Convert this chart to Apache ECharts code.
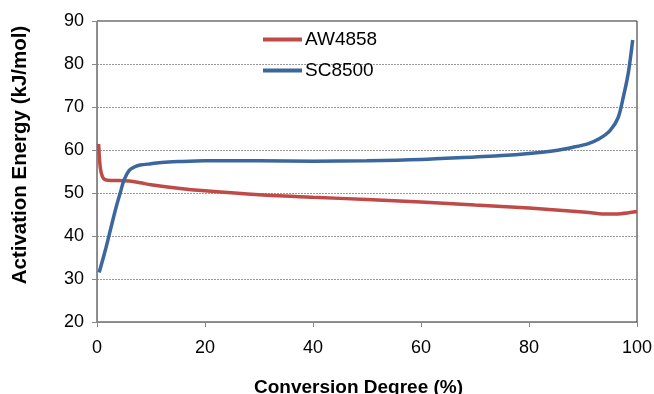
<!DOCTYPE html>
<html>
<head>
<meta charset="utf-8">
<script src="https://cdn.jsdelivr.net/npm/echarts@6/dist/echarts.min.js"></script>
<style>
  html, body { margin: 0; padding: 0; background: #fff; }
  #chart { width: 654px; height: 394px; }
</style>
</head>
<body>
<div id="chart"></div>
<script>
// conversion degree (%) and activation energy (kJ/mol)
var awConv = [0.3, 0.6, 1, 1.5, 2.5, 4, 6, 8, 10, 15, 20, 30, 40, 50, 60, 70, 80, 90, 94, 97, 100];
var awEa   = [61.4, 56, 53.8, 53.1, 52.9, 52.9, 52.8, 52.4, 51.9, 51.1, 50.5, 49.6, 49.0, 48.5, 47.9, 47.2, 46.5, 45.6, 45.1, 45.2, 45.7];

var scConv = [0.4, 1.5, 2.5, 3.5, 4.3, 5, 6, 7, 8, 10, 12, 15, 20, 30, 40, 50, 60, 70, 75, 80, 85, 88, 91, 93, 95, 96.5, 97.5, 98.4, 99.2];
var scEa   = [31.5, 36.5, 41.5, 46.5, 50, 53, 55.3, 56.1, 56.5, 56.8, 57.1, 57.3, 57.5, 57.5, 57.4, 57.5, 57.8, 58.4, 58.7, 59.2, 59.9, 60.6, 61.5, 62.6, 64.5, 67.5, 72.5, 78, 85.6];

var seriesNames = ['AW4858', 'SC8500'];

function pairs (xs, ys) {
  return xs.map(function (x, i) { return [x, ys[i]]; });
}

var chart = echarts.init(document.getElementById('chart'));
chart.setOption({
  animation: false,
  color: ['#BE4B48', '#3B679E'],
  textStyle: { fontFamily: 'Liberation Sans, Arial, sans-serif' },
  grid: {
    left: 97,
    right: 17,
    top: 21,
    bottom: 72,
    containLabel: false,
    outerBoundsMode: 'none',
    show: true,
    borderColor: '#222',
    borderWidth: 1
  },
  legend: {
    orient: 'vertical',
    left: 258,
    top: 25,
    icon: 'rect',
    itemWidth: 39,
    itemHeight: 4,
    itemGap: 12,
    textStyle: { fontSize: 19, color: '#000', padding: [0, 0, 0, -2] },
    data: seriesNames
  },
  xAxis: {
    type: 'value',
    min: 0,
    max: 100,
    interval: 20,
    name: 'Conversion Degree (%)',
    nameLocation: 'middle',
    nameGap: 56,
    nameTextStyle: { fontSize: 19, fontWeight: 'bold', color: '#000', padding: [0, 17, 0, 0] },
    axisLine: { lineStyle: { color: '#888' } },
    axisTick: { show: true, inside: false, length: 5, lineStyle: { color: '#888' } },
    axisLabel: { fontSize: 18, color: '#000', margin: 17 },
    splitLine: { show: false }
  },
  yAxis: {
    type: 'value',
    min: 20,
    max: 90,
    interval: 10,
    name: 'Activation Energy (kJ/mol)',
    nameLocation: 'middle',
    nameGap: 66,
    nameTextStyle: { fontSize: 20.5, fontWeight: 'bold', color: '#000', padding: [0, 0, 0, 33] },
    axisLine: { show: true, lineStyle: { color: '#888' } },
    axisTick: { show: true, inside: false, length: 5, lineStyle: { color: '#888' } },
    axisLabel: { fontSize: 18, color: '#000', margin: 13 },
    splitLine: { show: true, lineStyle: { color: '#999', type: [2, 1], width: 1 } }
  },
  series: [
    {
      name: seriesNames[0],
      type: 'line',
      data: pairs(awConv, awEa),
      smooth: 0.3,
      symbol: 'none',
      lineStyle: { width: 3.5 }
    },
    {
      name: seriesNames[1],
      type: 'line',
      data: pairs(scConv, scEa),
      smooth: 0.3,
      symbol: 'none',
      lineStyle: { width: 3.5 }
    }
  ]
});
</script>
</body>
</html>
